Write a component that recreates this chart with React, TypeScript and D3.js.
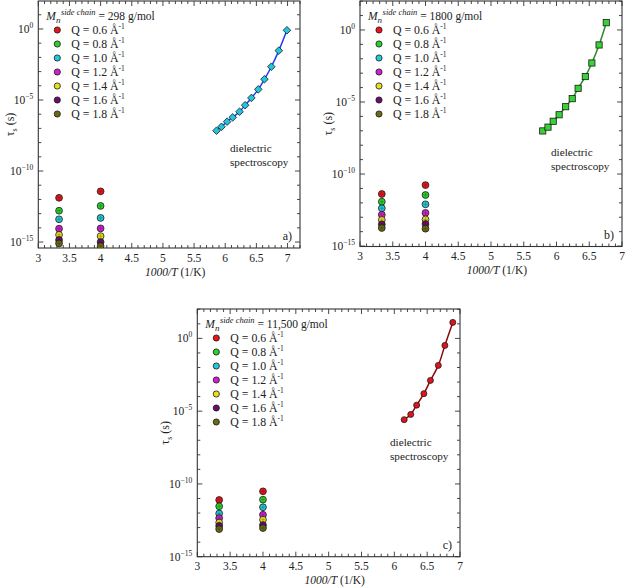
import React from 'react';
import * as d3 from 'd3';

// Q values of the neutron data and their colours
const Q_LABELS = ['0.6', '0.8', '1.0', '1.2', '1.4', '1.6', '1.8'];
const Q_COLORS = ['#e8141c', '#2bd12b', '#22c9d6', '#d21ed2', '#e6e01e', '#6e0c6e', '#6b6a12'];

// 1000/T of the two neutron temperatures (300 K and 250 K)
const T_INV = [3.333, 4.0];

// tau_s (s) per Q, at 300 K and 250 K
const TAU_A_300 = [1.3e-12, 1.6e-13, 4.0e-14, 8.7e-15, 3.2e-15, 1.4e-15, 8.0e-16];
const TAU_A_250 = [3.7e-12, 3.5e-13, 5.0e-14, 9.1e-15, 2.6e-15, 1.0e-15, 5.2e-16];
const TAU_B_300 = [4.1e-12, 1.2e-12, 4.2e-13, 1.5e-13, 6.5e-14, 3.2e-14, 1.8e-14];
const TAU_B_250 = [1.7e-11, 3.5e-12, 7.9e-13, 2.0e-13, 7.1e-14, 3.4e-14, 1.6e-14];
const TAU_C_300 = [7.9e-12, 2.9e-12, 9.3e-13, 4.5e-13, 2.2e-13, 1.3e-13, 7.9e-14];
const TAU_C_250 = [3.1e-11, 8.3e-12, 2.5e-12, 7.6e-13, 3.5e-13, 1.5e-13, 9.3e-14];

// dielectric spectroscopy
const DS_A_X = [5.86, 5.94, 6.03, 6.12, 6.23, 6.32, 6.42, 6.53, 6.63, 6.74, 6.86, 6.99];
const DS_A_TAU = [6.9e-8, 1.3e-7, 3.0e-7, 6.0e-7, 1.5e-6, 4.3e-6, 1.4e-5, 5.6e-5, 2.9e-4, 2.2e-3, 3.0e-2, 0.81];
const DS_B_X = [5.79, 5.87, 5.95, 6.04, 6.14, 6.24, 6.33, 6.44, 6.54, 6.65, 6.76];
const DS_B_TAU = [9.8e-8, 1.8e-7, 4.6e-7, 1.3e-6, 4.7e-6, 1.7e-5, 8.9e-5, 5.8e-4, 5.1e-3, 9.1e-2, 3.2];
const DS_C_X = [6.15, 6.25, 6.34, 6.45, 6.55, 6.67, 6.77, 6.89];
const DS_C_TAU = [2.6e-6, 6.0e-6, 2.6e-5, 1.6e-4, 1.3e-3, 1.4e-2, 0.33, 12.6];

const Y_TICK_EXP = [0, -5, -10, -15];
const X_TICK_LABELS = ['3', '3.5', '4', '4.5', '5', '5.5', '6', '6.5', '7'];

const FONT = '"Liberation Serif", "Times New Roman", serif';
const AXIS_COLOR = '#333';

type Shape = 'diamond' | 'square' | 'circle';

interface PanelProps {
  id: string;
  left: number; right: number; top: number; bottom: number;
  xMax: number;
  yMinExp: number; yMaxExp: number;
  mass: string;
  tau300: number[]; tau250: number[];
  dsX: number[]; dsTau: number[];
  dsLine: string; dsFill: string; dsShape: Shape;
  dsText: [number, number];
  tag: string;
  yLabelX: number;
}

function marker(shape: Shape, x: number, y: number, fill: string, key: number) {
  if (shape === 'diamond') {
    const s = 3.8;
    return <path key={key} d={`M${x},${y - s}L${x + s},${y}L${x},${y + s}L${x - s},${y}Z`} fill={fill} stroke="#1a1a1a" strokeWidth={0.8} />;
  }
  if (shape === 'square') {
    const s = 3.1;
    return <rect key={key} x={x - s} y={y - s} width={2 * s} height={2 * s} fill={fill} stroke="#1a1a1a" strokeWidth={0.8} />;
  }
  return <circle key={key} cx={x} cy={y} r={3} fill={fill} stroke="#1a1a1a" strokeWidth={0.8} />;
}

function Panel(p: PanelProps) {
  const x = d3.scaleLinear().domain([3, p.xMax]).range([p.left, p.right]);
  const y = d3.scaleLog().domain([Math.pow(10, p.yMinExp), Math.pow(10, p.yMaxExp)]).range([p.bottom, p.top]);

  const xMinor = d3.range(30, Math.round(p.xMax * 10) + 1).map(v => v / 10);
  const xMajor = X_TICK_LABELS.map(Number);
  const yMinor = d3.range(Math.ceil(p.yMinExp), Math.floor(p.yMaxExp) + 1);

  const line = d3.line<number>()
    .x((_, i) => x(p.dsX[i]))
    .y(d => y(d))
    .curve(d3.curveCatmullRom.alpha(0.5));

  const ticks: React.ReactNode[] = [];
  xMinor.forEach((v, i) => {
    const major = xMajor.some(m => Math.abs(m - v) < 1e-6);
    const len = major ? 5 : 3;
    const xx = x(v);
    ticks.push(<line key={`xb${i}`} x1={xx} x2={xx} y1={p.bottom} y2={p.bottom - len} />);
    ticks.push(<line key={`xt${i}`} x1={xx} x2={xx} y1={p.top} y2={p.top + len} />);
  });
  yMinor.forEach(e => {
    const major = Y_TICK_EXP.includes(e);
    const len = major ? 5 : 3;
    const yy = y(Math.pow(10, e));
    ticks.push(<line key={`yl${e}`} x1={p.left} x2={p.left + len} y1={yy} y2={yy} />);
    ticks.push(<line key={`yr${e}`} x1={p.right} x2={p.right - len} y1={yy} y2={yy} />);
  });

  const legendX = p.left + 19;
  const rowY = (i: number) => p.top + 29 + i * 14;

  return (
    <g fontFamily={FONT} fill="#222">
      <defs>
        <clipPath id={`clip-${p.id}`}>
          <rect x={p.left} y={p.top} width={p.right - p.left} height={p.bottom - p.top} />
        </clipPath>
      </defs>
      <g stroke={AXIS_COLOR} strokeWidth={0.9}>{ticks}</g>
      <rect x={p.left} y={p.top} width={p.right - p.left} height={p.bottom - p.top} fill="none" stroke={AXIS_COLOR} strokeWidth={1.1} />

      {/* x tick labels */}
      {X_TICK_LABELS.map(t => (
        <text key={t} x={x(Number(t))} y={p.bottom + 13.5} fontSize={11.5} textAnchor="middle">{t}</text>
      ))}
      <text x={(p.left + p.right) / 2 + 6} y={p.bottom + 27.5} fontSize={11.5} textAnchor="middle">
        <tspan fontStyle="italic">1000/T</tspan> (1/K)
      </text>

      {/* y tick labels */}
      {Y_TICK_EXP.filter(e => e >= p.yMinExp - 0.01).map(e => (
        <text key={e} x={p.left - 5} y={y(Math.pow(10, e)) + 4} fontSize={11.5} textAnchor="end">
          10<tspan fontSize={7.5} dy={-5}>{e === 0 ? '0' : `\u2212${-e}`}</tspan>
        </text>
      ))}
      <text transform={`translate(${p.yLabelX},${(p.top + p.bottom) / 2}) rotate(-90)`} fontSize={12} textAnchor="middle">
        τ<tspan fontSize={8} dy={3}>s</tspan><tspan dy={-3}> (s)</tspan>
      </text>

      {/* legend */}
      <text x={p.left + 8} y={p.top + 19} fontSize={11.5}>
        <tspan fontStyle="italic">M</tspan>
        <tspan fontStyle="italic" fontSize={9} dy={3}>n</tspan>
        <tspan fontStyle="italic" fontSize={8.5} dy={-8} dx={0.5}>side chain</tspan>
        <tspan dy={5}> = {p.mass} g/mol</tspan>
      </text>
      {Q_LABELS.map((q, i) => (
        <g key={q}>
          <circle cx={legendX} cy={rowY(i)} r={3.1} fill={Q_COLORS[i]} stroke="#1a1a1a" strokeWidth={0.8} />
          <text x={legendX + 14} y={rowY(i) + 4} fontSize={11.8}>
            Q = {q} Å<tspan fontSize={7.5} dy={-5}>-1</tspan>
          </text>
        </g>
      ))}

      {/* neutron points */}
      <g clipPath={`url(#clip-${p.id})`}>
        {[p.tau300, p.tau250].map((arr, k) =>
          arr.map((t, i) => {
            const cx = x(T_INV[k]);
            const cy = y(t);
            return (
              <g key={`${k}-${i}`}>
                <circle cx={cx} cy={cy} r={3.4} fill={Q_COLORS[i]} stroke="#1a1a1a" strokeWidth={0.8} />
                <path d={`M${cx - 2.2},${cy}H${cx + 2.2}M${cx},${cy - 2.2}V${cy + 2.2}`} stroke="#1a1a1a" strokeWidth={0.5} opacity={0.55} />
              </g>
            );
          })
        )}
      </g>

      {/* dielectric spectroscopy */}
      <path d={line(p.dsTau) || ''} fill="none" stroke={p.dsLine} strokeWidth={1.5} />
      {p.dsTau.map((t, i) => marker(p.dsShape, x(p.dsX[i]), y(t), p.dsFill, i))}
      <text x={p.dsText[0]} y={p.dsText[1]} fontSize={11.2}>dielectric</text>
      <text x={p.dsText[0]} y={p.dsText[1] + 14} fontSize={11.2}>spectroscopy</text>

      <text x={p.right - 8} y={p.bottom - 8} fontSize={12} textAnchor="end">{p.tag}</text>
    </g>
  );
}

export default function App() {
  return (
    <div style={{ position: 'absolute', left: 0, top: 0 }}>
      <svg width={625} height={588} style={{ display: 'block', background: '#fff' }}>
        <Panel id="a" left={38.3} right={300} top={1} bottom={248} xMax={7.2}
          yMinExp={-15.42} yMaxExp={1.97} mass="298"
          tau300={TAU_A_300} tau250={TAU_A_250}
          dsX={DS_A_X} dsTau={DS_A_TAU} dsLine="#1f3cf5" dsFill="#22c6dc" dsShape="diamond"
          dsText={[230, 152]} tag="a)" yLabelX={14} />
        <Panel id="b" left={360} right={622} top={1} bottom={246.5} xMax={7}
          yMinExp={-15.03} yMaxExp={2.01} mass="1800"
          tau300={TAU_B_300} tau250={TAU_B_250}
          dsX={DS_B_X} dsTau={DS_B_TAU} dsLine="#2a8a2a" dsFill="#36d236" dsShape="square"
          dsText={[551, 156]} tag="b)" yLabelX={332} />
        <Panel id="c" left={197.3} right={460} top={309} bottom={556.7} xMax={7}
          yMinExp={-15} yMaxExp={2.02} mass="11,500"
          tau300={TAU_C_300} tau250={TAU_C_250}
          dsX={DS_C_X} dsTau={DS_C_TAU} dsLine="#8a0a0a" dsFill="#e0141c" dsShape="circle"
          dsText={[390, 446]} tag="c)" yLabelX={169} />
      </svg>
    </div>
  );
}
